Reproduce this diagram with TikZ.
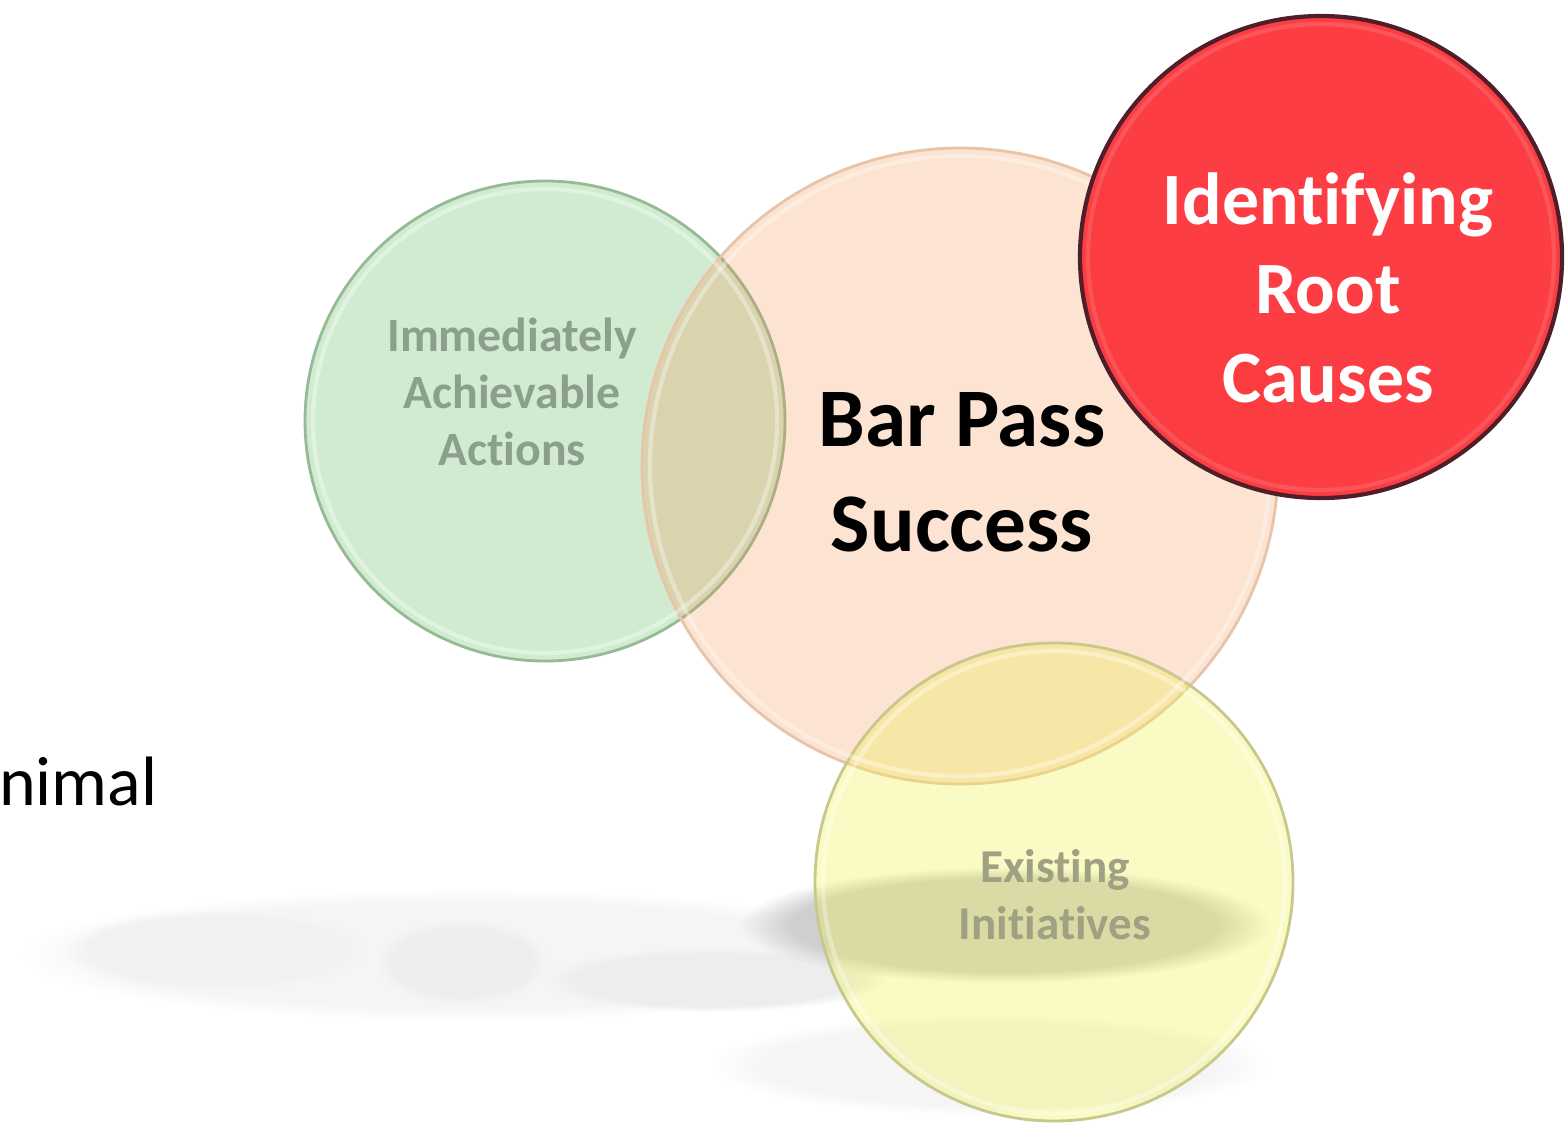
\documentclass[tikz,border=0pt]{standalone}
\usepackage{fontspec}
\setmainfont[Ligatures=NoCommon]{Carlito}
\usetikzlibrary{positioning,fadings}

\definecolor{greenFill}{RGB}{100,190,100}
\definecolor{greenLine}{RGB}{150,185,150}
\definecolor{peachFill}{RGB}{243,143,75}
\definecolor{peachLine}{RGB}{232,196,170}
\definecolor{yellowFill}{RGB}{240,240,87}
\definecolor{yellowLine}{RGB}{200,200,140}
\definecolor{redFill}{RGB}{252,52,58}
\definecolor{redLine}{RGB}{80,30,40}
\definecolor{greenText}{RGB}{140,158,140}
\definecolor{yellowText}{RGB}{160,160,130}

\tikzstyle{bubble}=[circle,inner sep=0pt,line width=0.8pt,draw=#1Line,fill=#1Fill]
\tikzstyle{haze}=[fill=#1,path fading=circle with fuzzy edge 20 percent]
\tikzstyle{caption}=[align=center,font=\bfseries]
\tikzstyle{gloss}=[white,opacity=#1,line width=1.2pt]
\newcommand{\bubble}[5]{\node[bubble=#1,fill opacity=#2,minimum size=#3mm] (#4) at #5 {};}

\begin{document}
\begin{tikzpicture}[x=0.1mm,y=-0.1mm]
    \useasboundingbox (0,0) rectangle (1567,1133);
    % blurred reflections below the circles
    \fill[haze=gray!8]  (470,955) ellipse [x radius=450, y radius=66];
    \fill[haze=gray!11] (215,950) ellipse [x radius=150, y radius=40];
    \fill[haze=gray!13] (462,962) ellipse [x radius=85, y radius=42];
    \fill[haze=gray!14] (715,980) ellipse [x radius=170, y radius=32];
    \fill[haze=gray!8]  (990,1065) ellipse [x radius=280, y radius=50];
    \fill[haze=gray!38] (1005,925) ellipse [x radius=265, y radius=58];

    % the four circles
    \bubble{green}{0.3}{48}{acts}{(545,421)}
    \bubble{peach}{0.25}{63.6}{bar}{(960,466)}
    \bubble{yellow}{0.35}{47.8}{init}{(1054,882)}
    \draw[gloss=.35] (acts) circle [radius=232];
    \draw[gloss=.35] (bar) circle [radius=310];
    \draw[gloss=.35] (init) circle [radius=231];
    \bubble{red}{0.95}{48.2}{root}{(1321,257)}
    \draw[redLine,line width=1.2pt] (root) circle [radius=241];
    \draw[gloss=.12] (root) circle [radius=233];

    % texts
    \node[caption,text=greenText,font=\bfseries\fontsize{13.6}{16.2}\selectfont] (actsT) at (512,392) {Immediately\\Achievable\\Actions};
    \node[caption,font=\bfseries\fontsize{23.7}{29.9}\selectfont] (barT) at (962,472) {Bar Pass\\Success};
    \node[caption,text=white,font=\bfseries\fontsize{21}{25.3}\selectfont] (rootT) at (1328,288) {Identifying\\Root\\Causes};
    \node[caption,text=yellowText,font=\bfseries\fontsize{13.4}{16.2}\selectfont] (initT) at (1055,895) {Existing\\Initiatives};
    \node[anchor=base east,inner sep=0pt,font=\fontsize{19.9}{24}\selectfont] (minT) at (158,805) {nimal};
\end{tikzpicture}
\end{document}
